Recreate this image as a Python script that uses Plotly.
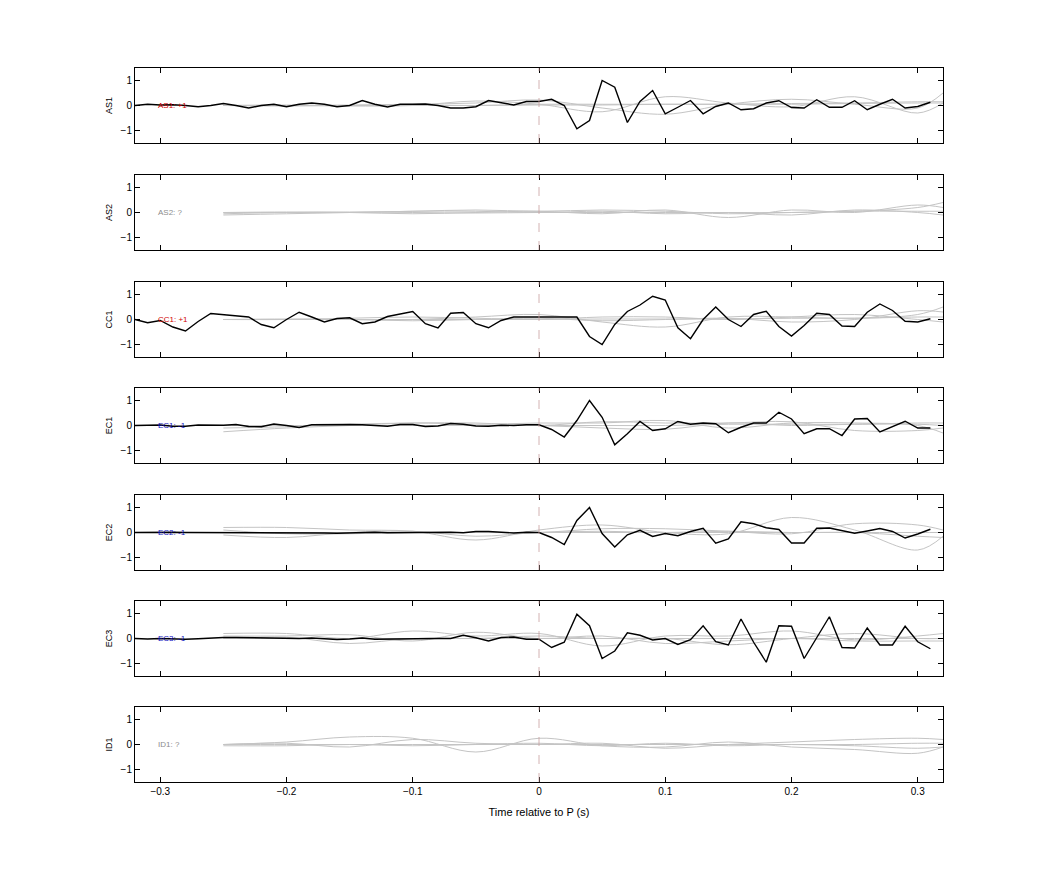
import plotly.graph_objects as go

# time axis for the black traces (10 ms samples)
t_black = [round(-0.32 + 0.01 * i, 2) for i in range(64)]
# time axis for the grey (smooth) traces
t_grey = [-0.25, -0.2, -0.15, -0.1, -0.05, 0.0, 0.05, 0.1, 0.15, 0.2, 0.25, 0.3, 0.32]

stations = ["AS1", "AS2", "CC1", "EC1", "EC2", "EC3", "ID1"]
labels = ["AS1: +1", "AS2: ?", "CC1: +1", "EC1: -1", "EC2: -1", "EC3: -1", "ID1: ?"]
label_colors = ["#d00000", "#8c8c8c", "#d00000", "#1010c0", "#1010c0", "#1010c0", "#8c8c8c"]

black = {
    "AS1": [0.0, 0.05, 0.02, 0.03, 0.0, -0.05, 0.0, 0.08, 0.0, -0.1, 0.0, 0.05, -0.05, 0.05,
            0.1, 0.05, -0.05, 0.0, 0.2, 0.05, -0.06, 0.05, 0.05, 0.06, 0.0, -0.1, -0.1, -0.05,
            0.2, 0.12, 0.02, 0.16, 0.16, 0.25, 0.0, -0.93, -0.6, 1.0, 0.73, -0.68, 0.16, 0.6,
            -0.33, -0.07, 0.2, -0.33, -0.04, 0.1, -0.17, -0.13, 0.1, 0.19, -0.08, -0.1, 0.23,
            -0.07, -0.07, 0.19, -0.17, 0.05, 0.25, -0.1, -0.04, 0.13],
    "AS2": None,
    "CC1": [0.0, -0.13, -0.04, -0.3, -0.46, -0.08, 0.24, 0.2, 0.16, 0.1, -0.2, -0.33, 0.0,
            0.29, 0.1, -0.1, 0.04, 0.07, -0.17, -0.1, 0.12, 0.23, 0.32, -0.17, -0.34, 0.25,
            0.28, -0.17, -0.33, -0.04, 0.1, 0.1, 0.1, 0.1, 0.13, 0.1, -0.68, -1.0, -0.2, 0.32,
            0.58, 0.93, 0.78, -0.33, -0.77, 0.0, 0.5, 0.0, -0.28, 0.2, 0.33, -0.28, -0.66,
            -0.24, 0.25, 0.2, -0.26, -0.28, 0.29, 0.62, 0.36, -0.07, -0.1, 0.03],
    "EC1": [0.0, 0.0, 0.02, -0.03, -0.03, 0.02, 0.01, 0.01, 0.04, -0.04, -0.05, 0.06, 0.0,
            -0.08, 0.03, 0.04, 0.04, 0.04, 0.03, 0.01, -0.03, 0.04, 0.04, -0.04, -0.02, 0.08,
            0.05, -0.02, -0.03, 0.01, 0.0, 0.03, 0.03, -0.16, -0.46, 0.2, 1.0, 0.33, -0.77,
            -0.33, 0.16, -0.2, -0.13, 0.16, 0.05, 0.1, 0.07, -0.29, -0.07, 0.1, 0.1, 0.53, 0.26,
            -0.33, -0.13, -0.13, -0.4, 0.26, 0.28, -0.26, -0.03, 0.17, -0.1, -0.1],
    "EC2": [0.0, 0.01, 0.02, 0.01, 0.0, 0.0, 0.0, 0.0, 0.0, 0.01, 0.0, -0.01, 0.0, 0.01,
            0.0, -0.02, -0.03, -0.01, 0.01, 0.01, -0.01, 0.0, 0.01, 0.02, 0.03, 0.01, -0.01,
            0.04, 0.04, 0.0, -0.02, 0.01, 0.0, -0.2, -0.48, 0.48, 1.0, -0.04, -0.58, -0.09,
            0.09, -0.16, -0.04, -0.13, 0.04, 0.17, -0.43, -0.26, 0.43, 0.35, 0.19, 0.12, -0.42,
            -0.42, 0.17, 0.18, 0.06, -0.03, 0.06, 0.16, 0.04, -0.22, -0.06, 0.13],
    "EC3": [0.0, -0.02, 0.0, -0.02, -0.03, -0.01, 0.03, 0.04, 0.04, 0.03, 0.02, 0.03, 0.01,
            0.0, 0.02, 0.0, -0.04, -0.02, 0.02, -0.03, -0.02, -0.02, -0.01, 0.0, 0.0, 0.0,
            0.13, 0.03, -0.1, 0.04, 0.06, -0.03, -0.03, -0.36, -0.15, 0.97, 0.51, -0.8, -0.5,
            0.23, 0.13, -0.06, 0.0, -0.24, -0.05, 0.51, -0.13, -0.26, 0.78, -0.15, -0.95, 0.51,
            0.49, -0.8, 0.04, 0.87, -0.36, -0.38, 0.42, -0.26, -0.26, 0.49, -0.13, -0.41],
    "ID1": None,
}

grey = {
    "AS1": [[0.0, 0.0, 0.02, 0.05, 0.1, 0.22, -0.1, -0.35, 0.05, 0.25, 0.05, -0.1, 0.5],
            [0.0, 0.02, -0.02, 0.0, 0.18, 0.05, -0.25, 0.35, 0.1, -0.05, 0.35, -0.3, 0.1],
            [0.0, -0.02, 0.0, 0.02, 0.0, 0.05, 0.05, 0.05, 0.05, 0.05, 0.08, 0.1, 0.1],
            [0.0, 0.0, 0.0, 0.0, 0.0, 0.02, 0.02, 0.05, 0.05, 0.08, 0.1, 0.15, 0.15]],
    "AS2": [[-0.1, -0.05, 0.0, 0.05, 0.1, 0.05, 0.1, 0.05, -0.05, 0.0, 0.05, 0.2, 0.4],
            [0.0, 0.02, 0.0, -0.05, 0.0, 0.05, -0.05, 0.1, -0.2, 0.1, 0.0, 0.3, 0.2],
            [0.0, 0.0, 0.0, 0.05, 0.05, 0.0, 0.05, -0.05, 0.0, -0.1, 0.1, 0.0, -0.1],
            [-0.05, 0.0, 0.02, 0.0, -0.02, 0.0, 0.0, 0.0, 0.0, 0.0, 0.05, 0.05, 0.05]],
    "CC1": [[0.0, 0.02, 0.0, 0.0, 0.1, 0.2, -0.1, -0.3, 0.1, 0.1, 0.05, 0.2, 0.5],
            [0.0, 0.0, 0.05, 0.1, 0.05, 0.0, 0.1, 0.1, 0.0, 0.1, 0.2, 0.0, -0.1],
            [0.0, 0.0, 0.0, -0.05, 0.0, 0.05, -0.05, 0.0, 0.05, -0.1, 0.0, 0.35, 0.3],
            [0.0, 0.0, 0.0, 0.0, 0.0, 0.0, 0.02, 0.02, 0.02, 0.05, 0.05, 0.1, 0.1]],
    "EC1": [[-0.25, -0.1, 0.0, 0.1, 0.05, 0.1, 0.1, 0.2, -0.1, 0.1, 0.1, 0.0, -0.3],
            [-0.1, -0.05, 0.05, 0.1, 0.1, 0.0, 0.15, 0.1, 0.1, 0.15, -0.2, -0.2, -0.1],
            [0.0, 0.0, 0.0, 0.0, 0.0, 0.0, -0.1, -0.15, 0.1, 0.0, 0.05, 0.05, 0.0],
            [0.0, 0.0, 0.0, 0.0, 0.0, 0.0, 0.0, 0.0, 0.05, 0.05, 0.05, 0.1, 0.1]],
    "EC2": [[0.2, 0.2, 0.1, 0.05, -0.3, 0.1, 0.3, 0.0, -0.05, 0.6, 0.1, -0.7, -0.15],
            [0.1, -0.05, -0.05, 0.0, 0.0, 0.0, 0.15, 0.15, 0.05, -0.05, 0.35, 0.3, 0.1],
            [-0.1, -0.2, 0.0, 0.05, -0.15, 0.0, 0.05, 0.0, 0.05, 0.0, 0.0, -0.15, -0.2],
            [0.0, 0.0, 0.0, 0.0, 0.0, 0.0, 0.0, 0.0, 0.0, 0.0, 0.0, 0.0, 0.0]],
    "EC3": [[0.2, 0.2, 0.0, 0.3, 0.1, 0.2, -0.3, 0.1, 0.1, 0.3, -0.05, 0.1, 0.2],
            [0.1, 0.1, 0.15, -0.1, 0.25, 0.0, 0.1, -0.2, -0.1, 0.0, -0.1, -0.1, -0.1],
            [0.0, 0.05, -0.2, 0.0, 0.0, 0.1, 0.0, 0.0, -0.25, 0.0, 0.2, 0.0, 0.0],
            [0.0, 0.0, 0.0, 0.0, 0.0, 0.0, 0.0, 0.0, 0.0, 0.0, 0.0, 0.0, 0.0]],
    "ID1": [[0.0, 0.1, 0.3, 0.25, -0.3, 0.25, -0.05, -0.1, 0.1, -0.1, -0.2, -0.35, -0.1],
            [0.0, 0.05, -0.1, 0.2, 0.05, 0.0, 0.05, -0.15, 0.0, 0.1, 0.2, 0.25, 0.2],
            [-0.05, -0.05, 0.0, -0.05, 0.0, 0.05, -0.05, 0.05, -0.05, 0.0, -0.05, -0.15, -0.1],
            [0.0, 0.0, 0.0, 0.0, 0.0, 0.0, 0.0, 0.0, 0.0, 0.0, 0.0, 0.05, 0.05]],
}

W, H = 1042, 875
TOPS = [60, 167, 274, 380, 487, 593, 699]  # page is offset ~7px by the body margin
PANEL_H = 75
FONT = "Helvetica, Arial, Liberation Sans, sans-serif"

fig = go.Figure()
layout = {}
for i, st in enumerate(stations):
    n = "" if i == 0 else str(i + 1)
    xa, ya = "x" + n, "y" + n
    for g in grey[st]:
        fig.add_trace(go.Scatter(x=t_grey, y=g, mode="lines", xaxis=xa, yaxis=ya,
                                 line=dict(color="#c4c4c4", width=1, shape="spline"),
                                 showlegend=False, hoverinfo="skip"))
    if black[st] is not None:
        fig.add_trace(go.Scatter(x=t_black, y=black[st], mode="lines", xaxis=xa, yaxis=ya,
                                 line=dict(color="black", width=1.4), showlegend=False))
    top, bot = TOPS[i], TOPS[i] + PANEL_H
    last = i == len(stations) - 1
    layout["xaxis" + n] = dict(
        domain=[0, 1], anchor=ya, range=[-0.32, 0.32], showgrid=False, zeroline=False,
        showline=True, mirror="ticks", linecolor="black", linewidth=1,
        ticks="inside", ticklen=5, tickcolor="black",
        tickvals=[-0.3, -0.2, -0.1, 0, 0.1, 0.2, 0.3], showticklabels=last,
        tickfont=dict(size=10, color="black"),
        title=dict(text="Time relative to P (s)", font=dict(size=11, color="black"),
                   standoff=12) if last else None,
    )
    layout["yaxis" + n] = dict(
        domain=[1 - bot / H, 1 - top / H], anchor=xa, range=[-1.5, 1.5],
        showgrid=False, zeroline=False, showline=True, mirror="ticks",
        linecolor="black", linewidth=1, ticks="inside", ticklen=5, tickcolor="black",
        tickvals=[-1, 0, 1], tickfont=dict(size=10, color="black"),
        title=dict(text=st, font=dict(size=9, color="black"), standoff=6),
    )
    fig.add_shape(type="line", xref=xa, yref=ya, x0=0, x1=0, y0=-1.5, y1=1.5,
                  line=dict(color="#c8a0a0", width=0.8, dash="dash"))
    fig.add_annotation(xref=xa, yref=ya, x=-0.303, y=0, text=labels[i], showarrow=False,
                       xanchor="left", font=dict(size=8, color=label_colors[i]))

fig.update_layout(
    width=W, height=H, paper_bgcolor="white", plot_bgcolor="white",
    margin=dict(l=127, r=107, t=0, b=0), font=dict(family=FONT),
    **layout,
)
fig.write_html("out.html")
